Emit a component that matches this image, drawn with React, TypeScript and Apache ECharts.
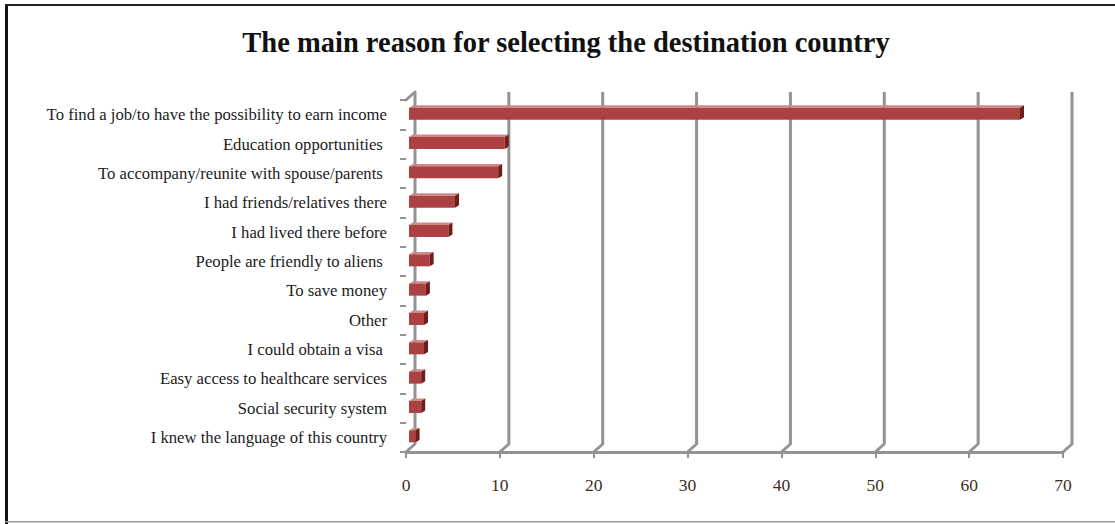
import React, { useEffect, useRef } from "react";
import * as echarts from "echarts";

const categories = [
  "To find a job/to have the possibility to earn income",
  "Education opportunities ",
  "To accompany/reunite with spouse/parents ",
  "I had friends/relatives there",
  "I had lived there before",
  "People are friendly to aliens ",
  "To save money",
  "Other",
  "I could obtain a visa ",
  "Easy access to healthcare services",
  "Social security system",
  "I knew the language of this country",
];
const values = [65.1, 10.2, 9.5, 4.9, 4.2, 2.2, 1.8, 1.6, 1.6, 1.3, 1.3, 0.7];
const xTicks = [0, 10, 20, 30, 40, 50, 60, 70];
const titleText = "The main reason for selecting the destination country";

const WALL = "#939393";
const DX = 9;
const DY = 8;

export default function App() {
  const ref = useRef<HTMLDivElement>(null);
  useEffect(() => {
    const chart = echarts.init(ref.current!, null, { renderer: "svg" });
    const option: any = {
      animation: false,
      backgroundColor: "#ffffff",
      grid: { left: 406, right: 52, top: 100, bottom: 72, containLabel: false },
      xAxis: {
        type: "value",
        min: 0,
        max: 70,
        interval: 10,
        axisLine: { show: true, lineStyle: { color: WALL, width: 3 } },
        axisTick: { show: true, length: 6, lineStyle: { color: WALL, width: 2 } },
        splitLine: { show: false },
        axisLabel: {
          margin: 24,
          color: "#3a2e22",
          fontFamily: "Liberation Serif",
          fontSize: 17.5,
        },
      },
      yAxis: {
        type: "category",
        data: categories,
        inverse: true,
        axisLine: { show: false },
        axisTick: { show: true, length: 6, lineStyle: { color: WALL, width: 2 } },
        axisLabel: {
          margin: 19,
          color: "#1c1c1c",
          fontFamily: "Liberation Serif",
          fontSize: 16.7,
        },
      },
      graphic: [
        { type: "rect", shape: { x: 5, y: 4, width: 3, height: 520 }, style: { fill: "#111" } },
        { type: "rect", shape: { x: 5, y: 4, width: 1110, height: 2 }, style: { fill: "#222" } },
        { type: "rect", shape: { x: 5, y: 521, width: 1110, height: 1.5 }, style: { fill: "#9a9a9a" } },
        {
          type: "text",
          x: 566,
          y: 42,
          style: {
            text: titleText,
            align: "center",
            verticalAlign: "middle",
            fontFamily: "Liberation Serif",
            fontWeight: "bold",
            fontSize: 28.5,
            fill: "#111",
          },
        },
      ],
      series: [
        {
          type: "custom",
          z: 1,
          coordinateSystem: "cartesian2d",
          data: xTicks.map((v) => [v, 0]),
          encode: { x: 0, y: 1 },
          renderItem: (params: any, api: any) => {
            const v = api.value(0);
            const x = api.coord([v, 0])[0];
            const cs = params.coordSys;
            const yTop = cs.y;
            const yBot = cs.y + cs.height;
            const children: any[] = [
              {
                type: "polyline",
                shape: {
                  points: [
                    [x, yBot],
                    [x + DX, yBot - DY],
                    [x + DX, yTop - DY],
                  ],
                },
                style: { stroke: WALL, lineWidth: 3, fill: "none", lineJoin: "round" },
              },
            ];
            if (v === 0) {
              children.push({
                type: "line",
                shape: { x1: x, y1: yTop, x2: x + DX, y2: yTop - DY },
                style: { stroke: WALL, lineWidth: 3, lineCap: "round" },
              });
            }
            return { type: "group", children };
          },
        },
        {
          type: "custom",
          z: 2,
          coordinateSystem: "cartesian2d",
          data: values.map((v, i) => [v, i]),
          encode: { x: 0, y: 1 },
          renderItem: (params: any, api: any) => {
            const v = api.value(0);
            const i = api.value(1);
            const s = api.coord([0, i]);
            const e = api.coord([v, i]);
            const h = 12;
            const off = 3;
            const d = 4;
            const x0 = s[0] + off;
            const x1 = e[0] + off;
            const top = s[1] - h / 2 - 1;
            const bot = top + h;
            return {
              type: "group",
              children: [
                {
                  type: "polygon",
                  shape: {
                    points: [
                      [x0, top],
                      [x1, top],
                      [x1 + d, top - d * 0.6],
                      [x0 + d, top - d * 0.6],
                    ],
                  },
                  style: { fill: "#cf8a88" },
                },
                {
                  type: "rect",
                  shape: { x: x0, y: top, width: x1 - x0, height: h },
                  style: { fill: "#ab4241" },
                },
                {
                  type: "polygon",
                  shape: {
                    points: [
                      [x1, top],
                      [x1 + d, top - d * 0.6],
                      [x1 + d, bot - d * 0.6],
                      [x1, bot],
                    ],
                  },
                  style: { fill: "#6e1c1c" },
                },
              ],
            };
          },
        },
      ],
    };
    chart.setOption(option);
    return () => chart.dispose();
  }, []);
  return (
    <div
      ref={ref}
      style={{ position: "fixed", left: 0, top: 0, width: 1115, height: 524 }}
    />
  );
}
